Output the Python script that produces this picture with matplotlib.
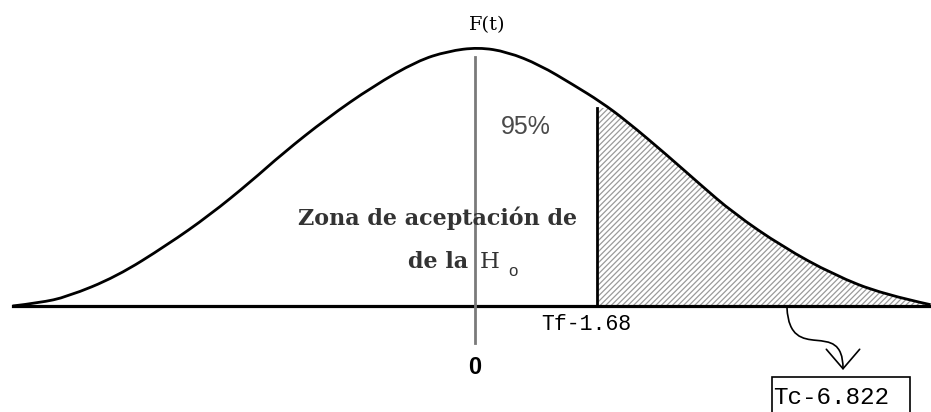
import numpy as np
import matplotlib
matplotlib.use("Agg")
import matplotlib.pyplot as plt
from matplotlib.patches import FancyArrowPatch, Rectangle, PathPatch
from matplotlib.path import Path

# bell curve (t units, density)
curve_t = [-2.72, -2.56, -2.40, -2.11, -1.81, -1.56, -1.32, -1.13, -0.87, -0.60,
           -0.34, -0.16, 0.02, 0.19, 0.38, 0.58, 0.74, 0.89, 1.13, 1.32, 1.52,
           1.81, 2.11, 2.40, 2.68]
curve_f = [0.000, 0.005, 0.014, 0.045, 0.094, 0.140, 0.191, 0.235, 0.289, 0.338,
           0.377, 0.392, 0.398, 0.391, 0.371, 0.340, 0.314, 0.285, 0.232, 0.188, 0.143,
           0.091, 0.048, 0.018, 0.002]

tf_value = 1.68
tc_value = 6.822
accept_pct = 95

tf_pos = 0.72   # where the critical value sits on the drawing


def smooth_path(xs, ys, close=False):
    # quadratic b-spline through the read points, so the pen line has no kinks
    pts = list(zip(xs, ys))
    verts = [pts[0]]
    codes = [Path.MOVETO]
    for i in range(1, len(pts) - 1):
        mid = ((pts[i][0] + pts[i + 1][0]) / 2, (pts[i][1] + pts[i + 1][1]) / 2)
        if i == len(pts) - 2:
            mid = pts[-1]
        verts += [pts[i], mid]
        codes += [Path.CURVE3, Path.CURVE3]
    if close:
        verts += [(xs[-1], 0), (xs[0], 0), (xs[0], 0)]
        codes += [Path.LINETO, Path.LINETO, Path.CLOSEPOLY]
    return Path(verts, codes)


plt.rcParams["hatch.linewidth"] = 0.9
plt.rcParams["hatch.color"] = "#9a9a9a"

fig = plt.figure(figsize=(9.31, 4.12), dpi=100)
ax = fig.add_axes([0, 0, 1, 1])
ax.set_xlim(-475 / 170, 456 / 170)
ax.set_ylim(-106 / 650, 306 / 650)
ax.axis("off")

serif = "DejaVu Serif"
sans = "Liberation Sans"
mono = "Liberation Mono"

# rejection zone: hatched block clipped by the area under the curve
area = PathPatch(smooth_path(curve_t, curve_f, close=True), facecolor="none",
                 edgecolor="none")
ax.add_patch(area)
zone = Rectangle((tf_pos, 0), curve_t[-1] + 0.1 - tf_pos, 0.305, facecolor="white",
                 edgecolor="#9a9a9a", hatch="//////", linewidth=0)
ax.add_patch(zone)
zone.set_clip_path(area)

ax.add_patch(PathPatch(smooth_path(curve_t, curve_f), facecolor="none",
                       edgecolor="black", lw=2.0))
ax.plot([curve_t[0], 2.69], [0, 0], color="black", lw=2.3)
ax.plot([0, 0], [0.383, -0.057], color="#7a7a7a", lw=2.0)
ax.plot([tf_pos, tf_pos], [0, 0.305], color="black", lw=2.0)

ax.text(0.07, 0.432, "F(t)", family=serif, fontsize=14, ha="center", va="center")
ax.text(0.15, 0.276, f"{accept_pct}%", family=sans, fontsize=18, color="#4a4a4a",
        ha="left", va="center")
ax.text(0.60, 0.135, "Zona de aceptación de", family=serif, fontweight="bold",
        fontsize=16, color="#333333", ha="right", va="center")
ax.text(-0.04, 0.068, "de la", family=serif, fontweight="bold", fontsize=16,
        color="#333333", ha="right", va="center")
ax.text(0.03, 0.068, "H", family=serif, fontsize=16.5, color="#333333",
        ha="left", va="center")
ax.text(0.195, 0.053, "o", family=sans, fontsize=12, color="#333333",
        ha="left", va="center")
ax.text(0.39, -0.028, f"Tf-{tf_value}", family=mono, fontsize=15.5,
        ha="left", va="center")
ax.text(0, -0.094, "0", family=sans, fontweight="bold", fontsize=17,
        ha="center", va="center")

# box with the computed value
ax.add_patch(Rectangle(((772 - 475) / 170, -108 / 650), 138 / 170, 37 / 650,
                       facecolor="white", edgecolor="black", lw=1.2, clip_on=False))
ax.text((773 - 475) / 170, -91 / 650, f"Tc-{tc_value}", family=mono, fontsize=17.5,
        ha="left", va="center")

# curved arrow from the axis down to the box
p0 = ((787 - 475) / 170, -2 / 650)
p1 = ((790 - 475) / 170, -60 / 650)
p2 = ((843 - 475) / 170, -10 / 650)
p3 = ((843 - 475) / 170, -64 / 650)
arrow_path = Path([p0, p1, p2, p3], [Path.MOVETO, Path.CURVE4, Path.CURVE4, Path.CURVE4])
ax.add_patch(FancyArrowPatch(path=arrow_path, arrowstyle="->,head_length=0.7,head_width=0.6",
                             mutation_scale=20, color="black", lw=1.2))

fig.savefig("out.png", dpi=100)
